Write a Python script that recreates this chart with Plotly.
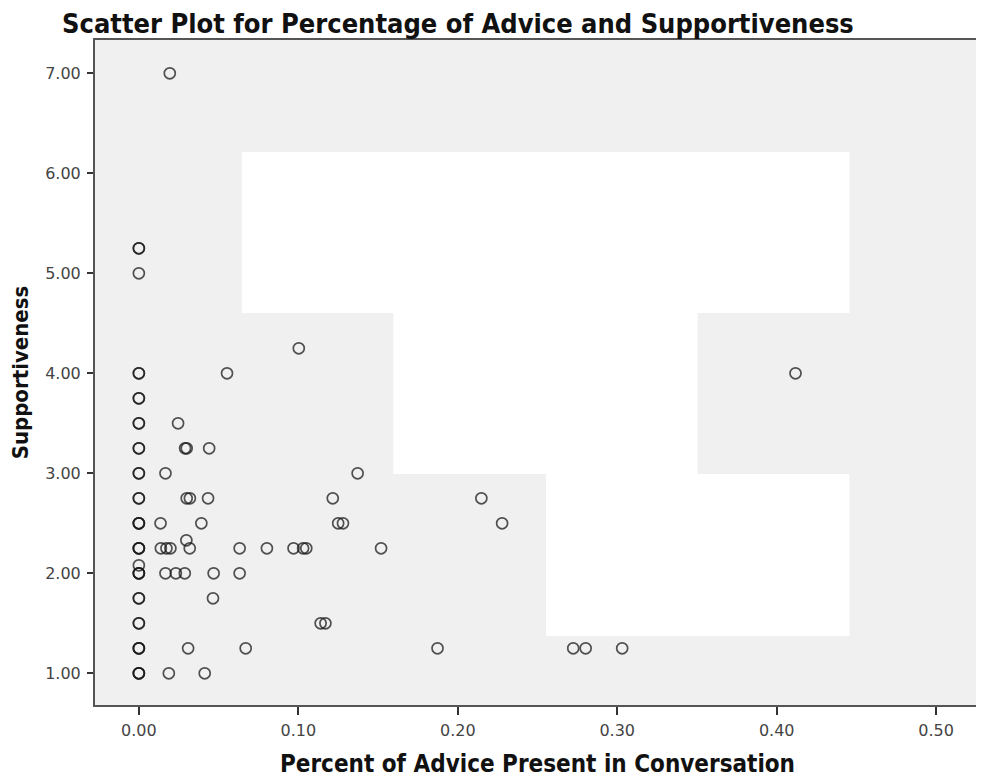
import plotly.graph_objects as go

title_text = "Scatter Plot for Percentage of Advice and Supportiveness"
x_title = "Percent of Advice Present in Conversation"
y_title = "Supportiveness"

x_ticks = [0.0, 0.1, 0.2, 0.3, 0.4, 0.5]
y_ticks = [1, 2, 3, 4, 5, 6, 7]

advice_pct = [
    0, 0, 0, 0.0188, 0.0413,
    0, 0, 0, 0.0309, 0.067, 0.1873, 0.2724, 0.2802, 0.3031,
    0, 0, 0.114, 0.117,
    0, 0, 0.0465,
    0, 0, 0, 0.0167, 0.0232, 0.0288, 0.0469, 0.0632,
    0,
    0, 0, 0, 0.0138, 0.0173, 0.0198, 0.0319, 0.0632, 0.0803, 0.097, 0.103, 0.105, 0.1519,
    0.0298,
    0, 0, 0, 0.0136, 0.0392, 0.125, 0.128, 0.2278,
    0, 0, 0.030, 0.032, 0.0434, 0.1216, 0.2148,
    0, 0, 0.0167, 0.1372,
    0, 0, 0.029, 0.030, 0.0441,
    0, 0, 0.0246,
    0, 0,
    0, 0, 0.0553, 0.4118,
    0.1003,
    0,
    0, 0,
    0.0194,
]
supportiveness = [
    1.0, 1.0, 1.0, 1.0, 1.0,
    1.25, 1.25, 1.25, 1.25, 1.25, 1.25, 1.25, 1.25, 1.25,
    1.5, 1.5, 1.5, 1.5,
    1.75, 1.75, 1.75,
    2.0, 2.0, 2.0, 2.0, 2.0, 2.0, 2.0, 2.0,
    2.08,
    2.25, 2.25, 2.25, 2.25, 2.25, 2.25, 2.25, 2.25, 2.25, 2.25, 2.25, 2.25, 2.25,
    2.33,
    2.5, 2.5, 2.5, 2.5, 2.5, 2.5, 2.5, 2.5,
    2.75, 2.75, 2.75, 2.75, 2.75, 2.75, 2.75,
    3.0, 3.0, 3.0, 3.0,
    3.25, 3.25, 3.25, 3.25, 3.25,
    3.5, 3.5, 3.5,
    3.75, 3.75,
    4.0, 4.0, 4.0, 4.0,
    4.25,
    5.0,
    5.25, 5.25,
    7.0,
]

fig = go.Figure()
fig.add_trace(go.Scatter(
    x=advice_pct, y=supportiveness, mode="markers",
    marker=dict(symbol="circle", size=11, color="rgba(0,0,0,0)",
                line=dict(color="rgba(25,25,25,0.75)", width=1.7)),
    hoverinfo="x+y", showlegend=False,
))

# white masked region seen in the reference image
fig.add_shape(
    type="path", xref="x", yref="y", layer="below",
    path=("M 0.0645 6.213 L 0.4456 6.213 L 0.4456 4.603 L 0.3504 4.603 "
          "L 0.3504 2.993 L 0.4456 2.993 L 0.4456 1.373 L 0.2553 1.373 "
          "L 0.2553 2.993 L 0.1596 2.993 L 0.1596 4.603 L 0.0645 4.603 Z"),
    fillcolor="white", line=dict(width=0),
)

title_font = "Liberation Sans Narrow, DejaVu Sans Condensed, Liberation Sans, sans-serif"
tick_font = "DejaVu Sans, sans-serif"

W, H = 976, 772  # page body margin of 8px shifts the figure

fig.update_layout(
    width=W, height=H,
    margin=dict(l=87, r=2, t=32, b=75),
    paper_bgcolor="white", plot_bgcolor="#f0f0f0",
    title=dict(text="<b>" + title_text + "</b>", x=54 / W, xanchor="left",
               y=1 - 16 / H, yanchor="middle",
               font=dict(family=title_font, size=27, color="#111")),
    xaxis=dict(
        range=[-0.0275, 0.5275], tickvals=x_ticks, tickformat=".2f",
        showgrid=False, zeroline=False, showline=True, mirror=True,
        linecolor="#555", linewidth=2, ticks="outside", ticklen=8,
        tickcolor="#333", tickwidth=2, ticklabelstandoff=2,
        tickfont=dict(family=tick_font, size=16, color="#444"),
        title=dict(text="<b>" + x_title + "</b>", standoff=16,
                   font=dict(family=title_font, size=24, color="#111")),
    ),
    yaxis=dict(
        range=[0.683, 7.333], tickvals=y_ticks, tickformat=".2f",
        showgrid=False, zeroline=False, showline=True, mirror=True,
        linecolor="#555", linewidth=2, ticks="outside", ticklen=6,
        tickcolor="#333", tickwidth=2, ticklabelstandoff=3,
        tickfont=dict(family=tick_font, size=16, color="#444"),
        title=dict(text="<b>" + y_title + "</b>", standoff=10,
                   font=dict(family=title_font, size=22, color="#111")),
    ),
)

fig.write_html("out.html")
